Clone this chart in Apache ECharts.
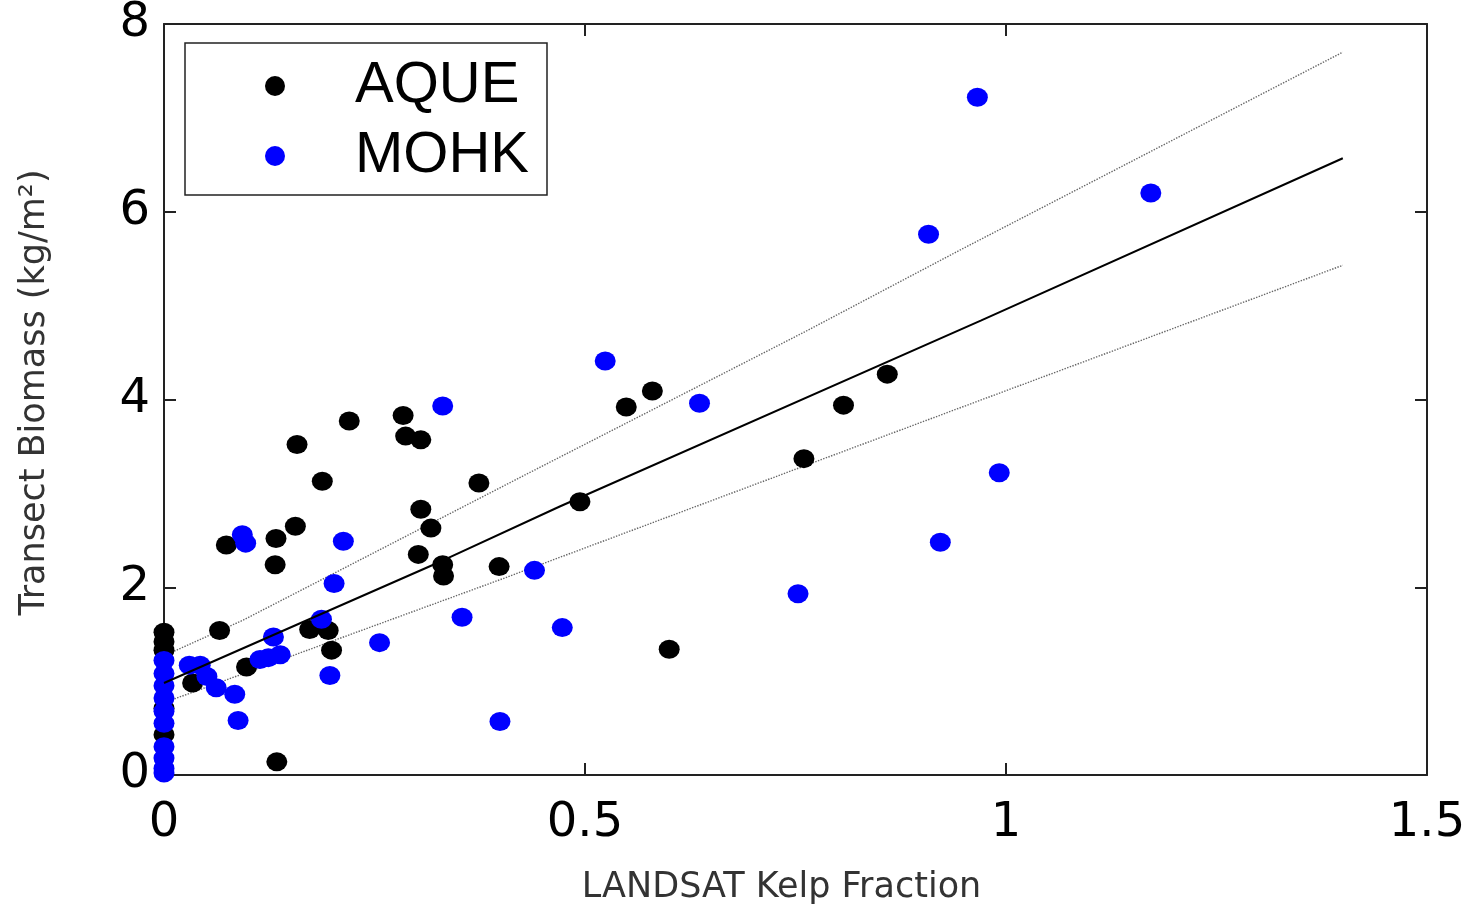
<!DOCTYPE html>
<html>
<head>
<meta charset="utf-8">
<script src="https://cdn.jsdelivr.net/npm/echarts@6/dist/echarts.min.js"></script>
<style>
  html, body { margin: 0; padding: 0; background: #fff; }
  #chart { width: 1475px; height: 908px; }
</style>
</head>
<body>
<div id="chart"></div>
<script>
// tick values
var xTicks = [0, 0.5, 1, 1.5];
var yTicks = [0, 2, 4, 6, 8];

// AQUE points
var aqueX = [0, 0, 0, 0, 0, 0.034, 0.066, 0.074, 0.098, 0.133, 0.132, 0.134, 0.156, 0.158, 0.173, 0.188, 0.195, 0.199,
    0.220, 0.284, 0.287, 0.305, 0.305, 0.317, 0.302, 0.331, 0.332, 0.374, 0.398, 0.494, 0.549, 0.580, 0.600, 0.760, 0.807, 0.859];
var aqueY = [1.52, 1.42, 1.33, 0.71, 0.43, 0.98, 1.54, 2.45, 1.15, 2.52, 2.24, 0.14, 2.65, 3.52, 1.55, 3.13, 1.54, 1.33,
    3.77, 3.83, 3.61, 3.57, 2.83, 2.63, 2.35, 2.24, 2.12, 3.11, 2.22, 2.91, 3.92, 4.09, 1.34, 3.37, 3.94, 4.27];

// MOHK points
var mohkX = [0, 0, 0, 0, 0, 0, 0, 0, 0, 0, 0.030, 0.043, 0.051, 0.062, 0.084, 0.088, 0.093, 0.097, 0.114, 0.124,
    0.138, 0.130, 0.187, 0.197, 0.202, 0.213, 0.256, 0.331, 0.354, 0.399, 0.440, 0.473, 0.524, 0.636, 0.753, 0.908,
    0.922, 0.966, 0.992, 1.172];
var mohkY = [1.22, 1.08, 0.95, 0.82, 0.68, 0.55, 0.30, 0.18, 0.07, 0.02, 1.17, 1.17, 1.05, 0.93, 0.86, 0.58, 2.56, 2.47, 1.23, 1.25,
    1.28, 1.47, 1.66, 1.06, 2.04, 2.49, 1.41, 3.93, 1.68, 0.57, 2.18, 1.57, 4.41, 3.96, 1.93, 5.76,
    2.48, 7.22, 3.22, 6.20];

// regression line and its bands
var fitX = [0, 0.33, 0.47, 0.97, 1.4];
var fitY = [0.98, 2.28, 2.86, 4.84, 6.57];
var upperX = [0, 0.094, 0.423, 0.763, 0.945, 1.4];
var upperY = [1.27, 1.65, 3.17, 4.73, 5.59, 7.70];
var lowerX = [0, 0.268, 0.399, 0.557, 0.933, 1.4];
var lowerY = [0.77, 1.65, 2.08, 2.61, 3.87, 5.43];

function pairs(xs, ys) {
    var out = [];
    for (var i = 0; i < xs.length; i++) {
        out.push([xs[i], ys[i]]);
    }
    return out;
}

var axisColor = '#222';
var tickFont = { fontSize: 48, fontFamily: 'DejaVu Sans', color: '#000' };
var titleFont = { fontSize: 35, fontFamily: 'DejaVu Sans', color: '#333' };

var chart = echarts.init(document.getElementById('chart'), null, { renderer: 'canvas' });

var option = {
    backgroundColor: '#fff',
    animation: false,
    grid: { left: 164, right: 48, top: 24, bottom: 133, containLabel: false, outerBoundsMode: 'none' },
    legend: {
        data: ['AQUE', 'MOHK'],
        orient: 'vertical',
        left: 185,
        top: 43,
        padding: [14, 18, 10, 80],
        itemWidth: 150,
        itemHeight: 20,
        itemGap: 12,
        icon: 'circle',
        borderColor: axisColor,
        borderWidth: 1.5,
        backgroundColor: '#fff',
        textStyle: { fontSize: 58, fontFamily: 'Liberation Sans', color: '#000', lineHeight: 56 }
    },
    xAxis: [
        {
            type: 'value',
            min: xTicks[0],
            max: xTicks[xTicks.length - 1],
            interval: xTicks[1] - xTicks[0],
            position: 'bottom',
            name: 'LANDSAT Kelp Fraction',
            nameLocation: 'middle',
            nameGap: 95,
            nameTextStyle: Object.assign({ padding: [0, 28, 0, 0] }, titleFont),
            axisLine: { show: true, onZero: false, lineStyle: { color: axisColor, width: 2 } },
            axisTick: { show: true, inside: true, length: 12, lineStyle: { color: axisColor, width: 2 } },
            axisLabel: Object.assign({ margin: 25 }, tickFont),
            splitLine: { show: false }
        },
        {
            type: 'value',
            min: xTicks[0],
            max: xTicks[xTicks.length - 1],
            interval: xTicks[1] - xTicks[0],
            position: 'top',
            axisLine: { show: true, onZero: false, lineStyle: { color: axisColor, width: 2 } },
            axisTick: { show: true, inside: true, length: 12, lineStyle: { color: axisColor, width: 2 } },
            axisLabel: { show: false },
            splitLine: { show: false }
        }
    ],
    yAxis: [
        {
            type: 'value',
            min: yTicks[0],
            max: yTicks[yTicks.length - 1],
            interval: yTicks[1] - yTicks[0],
            position: 'left',
            name: 'Transect Biomass (kg/m²)',
            nameLocation: 'middle',
            nameGap: 112,
            nameTextStyle: Object.assign({ padding: [0, 0, 0, 14] }, titleFont),
            axisLine: { show: true, onZero: false, lineStyle: { color: axisColor, width: 2 } },
            axisTick: { show: true, inside: true, length: 12, lineStyle: { color: axisColor, width: 2 } },
            axisLabel: Object.assign({ margin: 14 }, tickFont),
            splitLine: { show: false }
        },
        {
            type: 'value',
            min: yTicks[0],
            max: yTicks[yTicks.length - 1],
            interval: yTicks[1] - yTicks[0],
            position: 'right',
            axisLine: { show: true, onZero: false, lineStyle: { color: axisColor, width: 2 } },
            axisTick: { show: true, inside: true, length: 12, lineStyle: { color: axisColor, width: 2 } },
            axisLabel: { show: false },
            splitLine: { show: false }
        }
    ],
    series: [
        {
            name: 'upper',
            type: 'line',
            data: pairs(upperX, upperY),
            symbol: 'none',
            silent: true,
            z: 1,
            lineStyle: { color: '#666', width: 1.4, type: 'dotted' }
        },
        {
            name: 'lower',
            type: 'line',
            data: pairs(lowerX, lowerY),
            symbol: 'none',
            silent: true,
            z: 1,
            lineStyle: { color: '#666', width: 1.4, type: 'dotted' }
        },
        {
            name: 'AQUE',
            type: 'scatter',
            data: pairs(aqueX, aqueY),
            symbol: 'circle',
            symbolSize: [21, 19],
            clip: false,
            z: 2,
            itemStyle: { color: '#000', opacity: 1 }
        },
        {
            name: 'MOHK',
            type: 'scatter',
            data: pairs(mohkX, mohkY),
            symbol: 'circle',
            symbolSize: [21, 19],
            clip: false,
            z: 3,
            itemStyle: { color: '#0000ff', opacity: 1 }
        },
        {
            name: 'fit',
            type: 'line',
            data: pairs(fitX, fitY),
            symbol: 'none',
            silent: true,
            z: 4,
            lineStyle: { color: '#000', width: 2 }
        }
    ]
};

chart.setOption(option);
</script>
</body>
</html>
